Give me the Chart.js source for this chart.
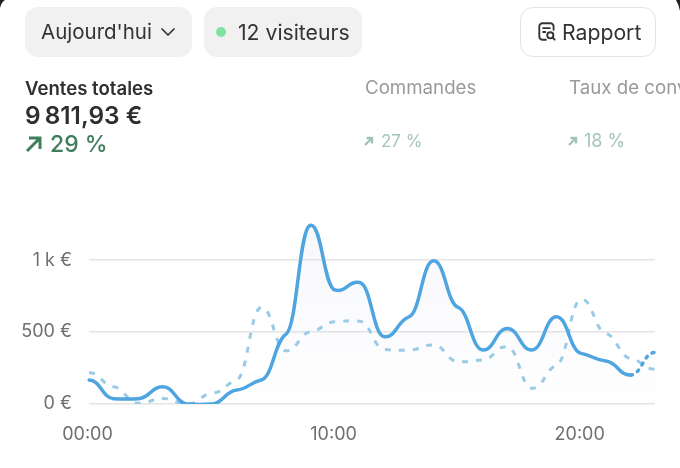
<!DOCTYPE html>
<html lang="fr"><head><meta charset="utf-8">
<script src="https://cdn.jsdelivr.net/npm/chart.js@4"></script>
<style>
html,body{margin:0;padding:0;background:#fff;width:680px;height:468px;overflow:hidden;font-family:Inter,sans-serif;color:#2f2f2f}
#c{position:absolute;left:0;top:0;width:680px;height:468px}
.a{position:absolute;white-space:nowrap}
.pill{background:#f1f1f2;border-radius:13px;height:50px;top:7px}
.t{font-size:20.5px;line-height:50px;color:#333}
</style></head><body>
<canvas id="c" width="680" height="468"></canvas>
<svg class="a" style="left:0;top:0" width="680" height="12" viewBox="0 0 680 12"><path d="M0 0h5Q1.500 2 0 8z" fill="#222"/><path d="M680 0h-4Q678.500 4 680 11z" fill="#222"/></svg>
<div class="a pill" style="left:25px;width:167px"></div>
<div class="a t" style="left:41px;top:7px">Aujourd'hui</div>
<svg class="a" style="left:160px;top:27px" width="16" height="10" viewBox="0 0 16 10"><path d="M2 2l6 6 6-6" fill="none" stroke="#333" stroke-width="1.7" stroke-linecap="round" stroke-linejoin="round"/></svg>
<div class="a pill" style="left:204px;width:158px"></div>
<div class="a" style="left:216px;top:27px;width:10px;height:10px;border-radius:5px;background:#7fe3a0"></div>
<div class="a t" style="left:238px;top:7px;font-size:21.2px">12 visiteurs</div>
<div class="a" style="left:520px;top:7px;width:134px;height:48px;border:1px solid #e2e2e2;border-radius:13px"></div>
<svg class="a" style="left:536px;top:21px" width="22" height="22" viewBox="0 0 20 20" fill="none" stroke="#333" stroke-width="1.7" stroke-linecap="round"><path d="M9 17H6a3 3 0 0 1-3-3V5a3 3 0 0 1 3-3h7a3 3 0 0 1 3 3v3"/><path d="M6.500 6.500h6M6.500 10h2"/><circle cx="13" cy="13" r="2.800"/><path d="M15 15l2 2"/></svg>
<div class="a t" style="left:562px;top:7px;font-size:21.2px">Rapport</div>

<div class="a" style="left:25px;top:77px;font-size:18.600px;font-weight:600;line-height:22px">Ventes totales</div>
<div class="a" style="left:25px;top:100px;font-size:24.400px;font-weight:600;line-height:30px">9&#8239;811,93 €</div>
<svg class="a" style="left:25px;top:135px" width="18" height="18" viewBox="0 0 18 18" fill="none" stroke="#3f7d5c" stroke-width="3"><path d="M2 16L15 3M4 3h11v11"/></svg>
<div class="a" style="left:50px;top:129px;font-size:23px;font-weight:500;line-height:30px;color:#3f7d5c">29 %</div>

<div class="a" style="left:365px;top:77px;font-size:18.700px;line-height:22px;color:#9a9a9a">Commandes</div>
<svg class="a" style="left:364px;top:136px" width="10" height="10" viewBox="0 0 10 10" fill="none" stroke="#a3c6b4" stroke-width="2.400"><path d="M1 9L8 2M2.500 2H8v5.500"/></svg>
<div class="a" style="left:381px;top:130px;font-size:17px;line-height:22px;color:#a3c6b4">27 %</div>
<div class="a" style="left:569px;top:77px;font-size:18.700px;line-height:22px;color:#9a9a9a">Taux de conversion</div>
<svg class="a" style="left:568px;top:136px" width="10" height="10" viewBox="0 0 10 10" fill="none" stroke="#a3c6b4" stroke-width="2.400"><path d="M1 9L8 2M2.500 2H8v5.500"/></svg>
<div class="a" style="left:584px;top:130px;font-size:18px;line-height:22px;color:#a3c6b4">18 %</div>
<script>
const hours = ['00:00','01:00','02:00','03:00','04:00','05:00','06:00','07:00','08:00','09:00','10:00','11:00','12:00','13:00','14:00','15:00','16:00','17:00','18:00','19:00','20:00','21:00','22:00','23:00'];
const today = [167,37,37,120,0,0,97,167,484,1243,792,845,468,606,995,671,375,525,375,606,352,299,201,359];
const previous = [218,120,5,39,0,74,167,671,370,502,572,576,380,375,410,294,306,398,109,271,727,491,317,241];
const yTicks = [0,500,1000];
const yTickLabels = {0:'0 €',500:'500 €',1000:'1 k €'};
const shownHours = ['00:00','10:00','20:00'];
const lastCompleteHour = 22;

// The reference curve leaves each point almost horizontally, so soften the
// library's own bezier handles rather than moving any point.
const flattenCurves = {id:'flattenCurves',beforeDatasetsDraw(chart){
  chart.getSortedVisibleDatasetMetas().forEach(meta=>{
    meta.dataset.updateControlPoints(chart.chartArea);
    const pts=meta.data;
    pts.forEach((p,i)=>{
      const dx=(pts[1].x-pts[0].x)*0.47;
      const prev=pts[i-1], next=pts[i+1];
      const slope=prev&&next?(next.y-prev.y)/(next.x-prev.x)*0.2:0;
      p.cp1x=p.x-dx; p.cp1y=p.y-slope*dx;
      p.cp2x=p.x+dx; p.cp2y=p.y+slope*dx;
    });
  });
}};

new Chart(document.getElementById('c'),{
  type:'line',
  plugins:[flattenCurves],
  data:{labels:hours,datasets:[
    {label:"Aujourd'hui",data:today,borderColor:'#4ea5e0',borderWidth:3.5,tension:0.4,pointRadius:0,
     fill:'origin',
     backgroundColor:(ctx)=>{const a=ctx.chart.chartArea;if(!a)return 'transparent';
       const g=ctx.chart.ctx.createLinearGradient(0,a.top,0,a.bottom);
       g.addColorStop(0,'rgba(200,205,235,0.15)');g.addColorStop(1,'rgba(200,205,235,0.01)');return g;},
     segment:{borderDash:(s)=>s.p0DataIndex>=lastCompleteHour?[2,6]:undefined},
     borderCapStyle:'round',borderJoinStyle:'round',order:1},
    {label:'Précédent',data:previous,borderColor:'#98cbe6',borderWidth:3,tension:0.4,pointRadius:0,fill:false,
     borderDash:[6,8],order:2}
  ]},
  options:{responsive:false,animation:false,devicePixelRatio:1,
    layout:{padding:{top:217,right:25,left:0,bottom:0}},
    plugins:{legend:{display:false},tooltip:{enabled:false}},
    scales:{
      x:{grid:{display:false,drawTicks:false},border:{display:false},
        afterFit:(s)=>{s.height=64},
        ticks:{autoSkip:false,maxRotation:0,minRotation:0,padding:20,labelOffset:-1.5,color:'#6f6f6f',font:{family:'Inter',size:18},
          callback(v){const l=this.getLabelForValue(v);return shownHours.includes(l)?l:''}}},
      y:{min:0,max:1300,grid:{color:'#e4e4e6',lineWidth:1.6,drawTicks:false},border:{display:false},
        afterFit:(s)=>{s.width=89},
        afterBuildTicks:(s)=>{s.ticks=yTicks.map(v=>({value:v}))},
        ticks:{padding:17,color:'#6f6f6f',font:{family:'Inter',size:18},callback:(v)=>yTickLabels[v]}}
    }
  }
});
</script>
</body></html>
